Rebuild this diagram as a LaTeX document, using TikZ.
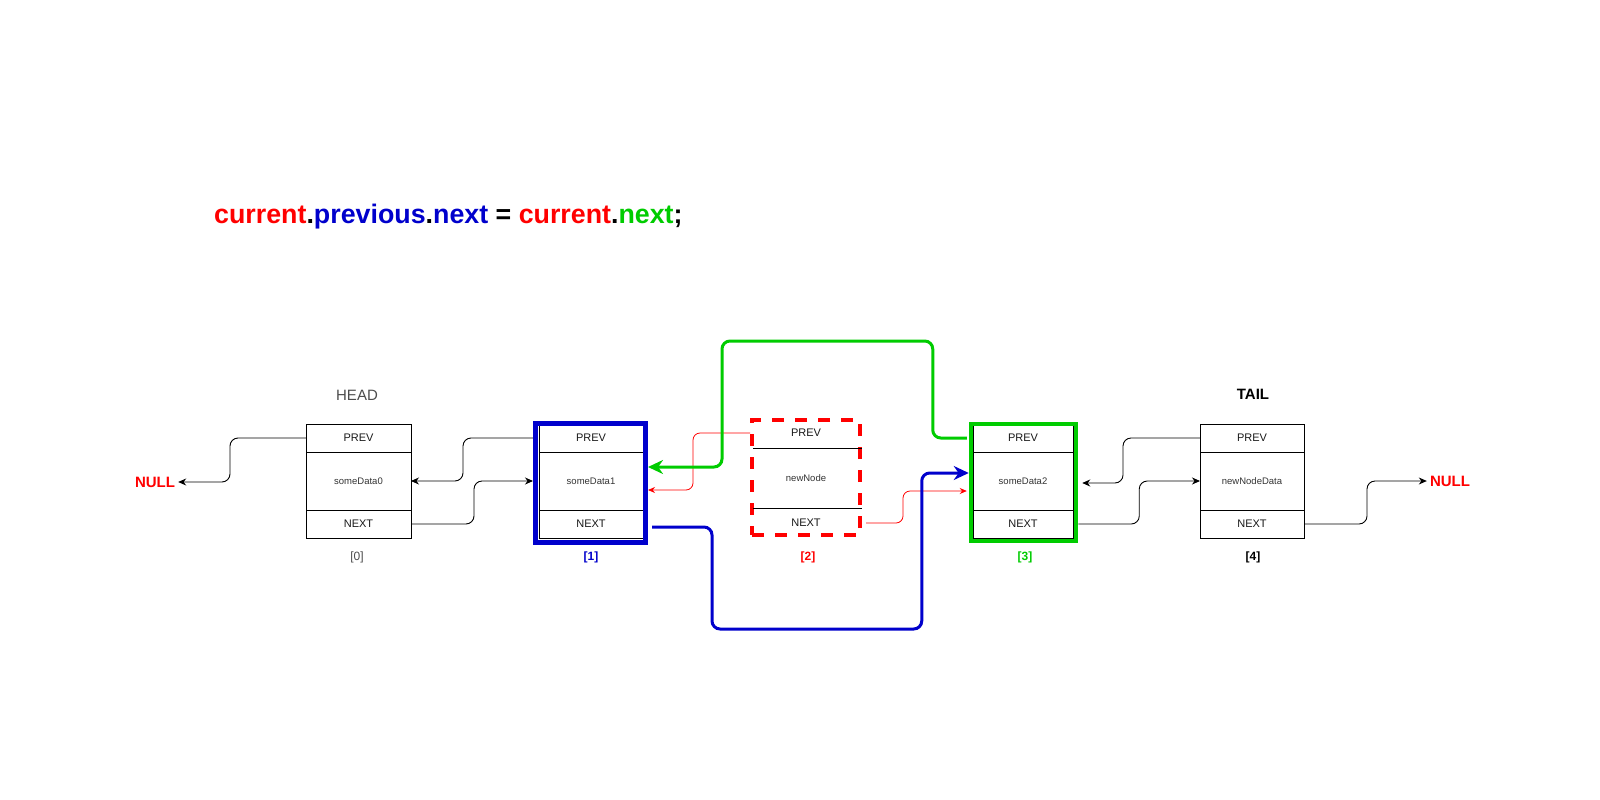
\documentclass[tikz,border=0pt]{standalone}
\usepackage{fontspec}
\setmainfont{Liberation Sans}
\usetikzlibrary{calc,arrows.meta}
\definecolor{dred}{HTML}{FF0000}
\definecolor{dblue}{HTML}{0000CC}
\definecolor{dgreen}{HTML}{00CC00}
\definecolor{dgray}{HTML}{4D4D4D}
\definecolor{tgray}{HTML}{333333}
\tikzset{
  cell/.style={draw=black, line width=0.8pt, rectangle, inner sep=0pt, outer sep=0pt, text=black!90, font=\fontsize{11}{13}\selectfont},
  datacell/.style={cell, text=tgray, font=\fontsize{9.5}{11}\selectfont},
  conn/.style={draw=black, line width=0.9pt, rounded corners=8pt, -{Stealth[length=8pt,width=7pt]}},
  redconn/.style={draw=dred, line width=0.8pt, rounded corners=7pt, -{Stealth[length=7pt,width=6pt]}},
  thickconn/.style={line width=3pt, rounded corners=8pt, -{Stealth[length=15pt,width=14pt]}},
  nulltxt/.style={text=dred, font=\fontsize{15}{18}\selectfont\bfseries, inner sep=3pt},
  idx/.style={font=\fontsize{12}{14}\selectfont\bfseries},
}
\newcommand\listelem[4]{%
  \node[cell, minimum width=#4pt, minimum height=28pt] (#1p) at (#2,438) {PREV};
  \node[datacell, minimum width=#4pt, minimum height=58pt] (#1d) at (#2,481) {#3};
  \node[cell, minimum width=#4pt, minimum height=28pt] (#1n) at (#2,524) {NEXT};
}
\begin{document}
\begin{tikzpicture}[x=1pt,y=-1pt]
\useasboundingbox (0,0) rectangle (1600,800);
\fill[white] (0,0) rectangle (1600,800);

% title
\node[anchor=base west, inner sep=0pt, font=\fontsize{26.8}{30}\selectfont\bfseries] (title) at (214,223)
  {\textcolor{dred}{current}.\textcolor{dblue}{previous}.\textcolor{dblue}{next} = \textcolor{dred}{current}.\textcolor{dgreen}{next};};

% list elements
\listelem{b0}{358.5}{someData0}{105}
\listelem{b1}{591}{someData1}{104}
\listelem{b3}{1023}{someData2}{100}
\listelem{b4}{1252}{newNodeData}{104}

% frames
\node[draw=dblue, line width=5pt, minimum width=110pt, minimum height=119pt, inner sep=0pt] (f1) at (590.5,483) {};
\node[draw=dgreen, line width=4.5pt, minimum width=105pt, minimum height=117pt, inner sep=0pt] (f3) at (1023.5,482.5) {};

% new node (dashed)
\node[draw=dred, line width=4pt, dash pattern=on 12pt off 11pt, minimum width=108pt, minimum height=115pt, inner sep=0pt] (rn) at (806,477.5) {};
\node[text=black!90, font=\fontsize{11}{13}\selectfont] (rp) at (806,433) {PREV};
\node[text=tgray, font=\fontsize{9.5}{11}\selectfont] (rd) at (806,478) {newNode};
\node[text=black!90, font=\fontsize{11}{13}\selectfont] (rx) at (806,523) {NEXT};
\draw[line width=0.8pt] ($(rn.west)+(3,-29.5)$) -- ($(rn.east)+(0,-29.5)$);
\draw[line width=0.8pt] ($(rn.west)+(3,30.5)$) -- ($(rn.east)+(0,30.5)$);

% captions
\node[text=dgray, font=\fontsize{15}{18}\selectfont] (head) at (357,395) {HEAD};
\node[font=\fontsize{15}{18}\selectfont\bfseries] (tail) at (1253,394) {TAIL};
\node[text=dgray, font=\fontsize{12}{14}\selectfont] (l0) at (357,557) {[0]};
\node[idx, text=dblue] (l1) at (591,557) {[1]};
\node[idx, text=dred] (l2) at (808,557) {[2]};
\node[idx, text=dgreen] (l3) at (1025,557) {[3]};
\node[idx, text=black] (l4) at (1253,557) {[4]};

% NULLs
\node[nulltxt] (nullL) at (155,482) {NULL};
\node[nulltxt] (nullR) at (1450,481) {NULL};

% black connectors
\draw[conn] (b0p.west) -- ++(-76,0) |- (nullL.east);
\draw[conn] (f1.west |- b1p.west) -- ++(-70,0) |- (b0d.east);
\draw[conn] (b0n.east) -- ++(63,0) |- (f1.west |- b1d.west);
\draw[conn] (b4p.west) -- ++(-77,0) |- ($(f3.east |- b3d.east)+(4,2)$);
\draw[conn] (f3.east |- b3n.east) -- ++(61,0) |- (b4d.west);
\draw[conn] (b4n.east) -- ++(63,0) |- (nullR.west);

% red thin connectors
\draw[redconn] (rn.west |- rp) -- ++(-57,0) |- ($(f1.east)+(0,7)$);
\draw[redconn] ($(rn.east |- rx)+(4,0)$) -- ++(37,0) |- ($(f3.west)+(-2,8.5)$);

% green thick connector
\coordinate (gt) at ($(f1.east)+(0,-16)$);
\draw[thickconn, draw=dgreen] ($(f3.west |- b3p.west)+(-2,0)$) -- ++(-34,0) |- ($(gt)+(74,-126)$) -- ($(gt)+(74,0)$) -- (gt);

% blue thick connector
\coordinate (bt) at ($(f3.west)+(0,-9.5)$);
\draw[thickconn, draw=dblue] ($(f1.east |- b1n.east)+(4,3)$) -- ++(60,0) -- ++(0,102) -| ($(bt)+(-47,0)$) -- (bt);
\end{tikzpicture}
\end{document}
